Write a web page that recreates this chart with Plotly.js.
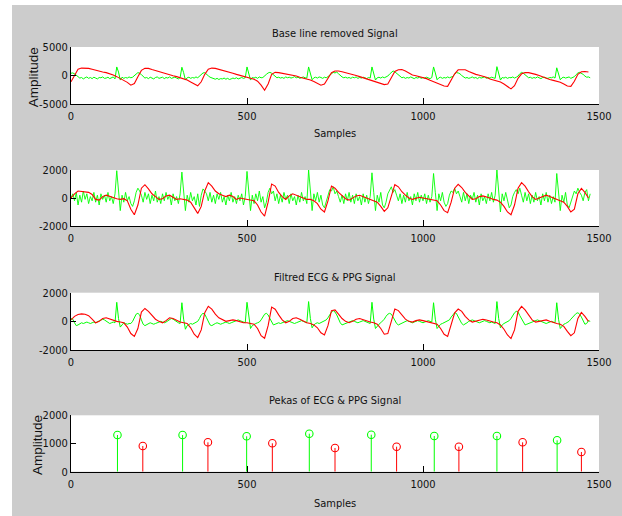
<!DOCTYPE html>
<html>
<head>
<meta charset="utf-8">
<script src="https://cdn.plot.ly/plotly-3.0.1.min.js"></script>
<style>
  html, body { margin: 0; padding: 0; background: #ffffff; width: 622px; height: 516px; overflow: hidden; }
  #chart { position: absolute; left: 12px; top: 5px; width: 610px; height: 511px; }
</style>
</head>
<body>
<div id="chart"></div>
<script>
// ---------------- data ----------------
const GREEN_STEP = 5;   // samples between green values
const RED_STEP = 10;    // samples between red values

const X_TICKS = [0, 500, 1000, 1500];
const X_TICK_TEXT = ['0', '500', '1000', '1500'];
const Y1_TICKS = [-5000, 0, 5000];
const Y1_TICK_TEXT = ['-5000', '0', '5000'];
const Y23_TICKS = [-2000, 0, 2000];
const Y23_TICK_TEXT = ['-2000', '0', '2000'];
const Y4_TICKS = [0, 1000, 2000];
const Y4_TICK_TEXT = ['0', '1000', '2000'];

const TITLES = ['Base line removed Signal', 'Filtred ECG & PPG Signal', 'Pekas of ECG & PPG Signal'];
const X_LABEL = 'Samples';
const Y_LABEL = 'Amplitude';

// Panel 1: base line removed ECG (green) and PPG (red)
const GREEN1 = [
  400, 450, 300, 100, -200, -450, -350, -600, -400, -250, -500, -350, -550, -300, -450, -600, -350, -400, -250, -500,
  -450, -300, -550, -400, -250, -600, 1500, 600, -800, -300, -500, -350, -450, -250, -400, -300, -100, 250, 500, 400,
  150, -200, -450, -350, -550, -300, -450, -600, -350, -250, -500, -400, -300, -550, -350, -450, -250, -500, -400, -300,
  -450, -600, -350, 1450, 500, -800, -400, -300, -500, -350, -450, -250, -400, -150, 200, 450, 500, 300, -50, -300,
  -450, -550, -650, -500, -700, -550, -600, -450, -650, -500, -700, -600, -450, -550, -400, -600, -450, -350, -500, -400,
  1500, 400, -800, -350, -450, -300, -500, -250, -400, -350, -150, 200, 450, 550, 400, 100, -250, -400, -300, -450,
  -350, -500, -250, -400, -300, -450, -350, -200, -400, -300, -500, -350, -250, -400, -450, 1500, 500, -750, -400, -300,
  -450, -250, -350, -500, -300, -400, -200, 100, 400, 550, 450, 600, 300, 0, -250, -400, -300, -450, -350, -500,
  -300, -400, -250, -500, -350, -450, -300, -400, -550, -350, -450, 1500, 400, -800, -400, -300, -450, -250, -400, -300,
  -100, 250, 550, 800, 650, 400, 100, -200, -400, -300, -500, -350, -450, -250, -400, -550, -350, -450, -300, -500,
  -350, -450, -300, -400, -550, -350, 1500, 450, -750, -400, -300, -500, -350, -450, -250, -400, -300, -150, 250, 500,
  450, 300, 0, -300, -450, -350, -500, -400, -250, -450, -350, -550, -300, -450, -400, -250, -500, -350, -450, -300,
  -400, -500, 1550, 500, -800, -350, -450, -300, -500, -350, -400, -250, -450, -300, -100, 300, 550, 400, 150, -200,
  -400, -300, -500, -350, -450, -250, -400, -550, -350, -300, -450, -500, -350, -400, -250, -450, 1350, 400, -750, -400,
  -300, -450, -350, -250, -500, -350, -200, 150, 450, 550, 400, 200, -100, -300, -250, -400
];
const RED1 = [
  -1100, 100, 1100, 1300, 1300, 1250, 1100, 900, 700, 600,
  500, 350, 100, -200, -500, -800, -1200, -1700, -1400, -200,
  900, 1250, 1250, 1050, 850, 650, 450, 250, 100, -50,
  -200, -400, -600, -800, -1150, -1500, -1800, -1100, 200, 1100,
  1300, 1250, 1100, 900, 700, 550, 400, 200, 50, -100,
  -300, -500, -650, -1000, -1700, -2600, -1500, 200, 550, 500,
  400, 300, 100, 0, -100, -300, -450, -650, -800, -1050,
  -1350, -1700, -1500, -500, 500, 800, 800, 650, 500, 400,
  200, 0, -200, -400, -550, -750, -900, -1100, -1350, -1600,
  -1500, -400, 700, 1000, 1050, 800, 400, 100, -50, -200,
  -320, -550, -850, -1100, -1350, -1600, -1850, -1900, -900, 300,
  1000, 1050, 1000, 700, 400, 200, 50, -100, -300, -600,
  -800, -1000, -1150, -1500, -2000, -2350, -1800, -500, 300, 500,
  500, 400, 200, 0, -250, -500, -700, -850, -1000, -1200,
  -1500, -1850, -1900, -1000, 200, 650, 700, 600
];

// Panel 2: raw (noisy) ECG and PPG
const GREEN2 = [
  0, 300, -200, 400, -500, 200, -300, 500, -100, 300, -400, 100, -200, 400, -300, 200, -500, 300, -100, 200,
  -300, 400, -200, 100, -400, 300, 1950, 500, -900, 200, -300, 400, -200, 100, -400, -600, -200, 400, 700, 500,
  200, -300, 400, -100, 300, -400, 200, -200, 500, -300, 100, -400, 300, -200, 400, -100, 200, -500, 300, -200,
  100, -400, 300, 1850, 600, -900, 200, -300, 400, -200, 100, -500, 300, -600, 200, 650, 500, 300, -200, 400,
  -300, 200, -400, 300, -100, 400, -300, 100, -500, 200, -200, 400, -300, 100, -400, 200, -200, 300, -500, 100,
  1900, 400, -900, 200, -400, 300, -200, 500, -300, 100, -700, -300, 400, 700, 300, 500, -200, 300, -400, 200,
  -300, 400, -100, 200, -400, 300, -200, 100, -500, 200, -300, 400, -200, 100, -400, 2000, 500, -900, 300, -200,
  400, -300, 200, -500, -700, -200, 300, 600, 500, 800, 300, 500, 100, -300, 200, -400, 300, -200, 400, -300,
  200, -400, 300, -200, 100, -500, 300, -300, 200, -400, 100, 1800, 400, -900, 200, -300, 400, -500, -700, -300,
  300, 600, 800, 400, 600, 200, -200, 300, -400, 200, -300, 400, -200, 100, -500, 300, -200, 400, -300, 200,
  -200, 300, -400, 200, -300, 100, 1750, 400, -900, 300, -200, 400, -300, -600, -400, 200, 500, 400, 700, 300,
  500, 100, -300, 400, -200, 300, -400, 200, -100, 400, -300, 200, -500, 300, -200, 100, -400, 300, -200, 400,
  -300, 200, 2000, 500, -1000, 300, -200, 400, -300, -700, -500, 100, 400, 600, 300, 700, 200, -300, 400, -200,
  300, -400, 200, -300, 400, -200, 100, -500, 300, -200, 400, -300, 200, -400, 100, -300, 1750, 400, -900, 200,
  -300, 400, -500, -700, -300, 200, 500, 300, 700, 400, 200, -200, 400, 600, -200, 300
];
const RED2 = [
  0, 300, 500, 450, 400, 400, 250, -100, -150, 100,
  200, 100, 0, -50, -100, -50, -200, -800, -1200, -500,
  700, 950, 650, 300, 100, -100, -50, 150, 200, 50,
  -100, -50, -100, -150, -300, -700, -1100, -600, 500, 1100,
  850, 500, 300, 200, 100, 200, 100, -100, 0, -50,
  -100, -150, -200, -500, -1000, -1300, -300, 1000, 850, 400,
  100, -100, 150, 300, 200, 150, 0, -100, -100, -200,
  -400, -800, -1000, -200, 850, 700, 400, 150, -50, -150,
  0, 150, 200, 100, 0, -100, -150, -300, -600, -950,
  -700, 200, 950, 800, 450, 200, 0, -100, 0, 50,
  0, -50, -100, -150, -200, -500, -900, -1050, -300, 700,
  980, 750, 400, 150, -100, -50, 100, 150, 100, 0,
  -100, -150, -300, -600, -1000, -1200, -500, 700, 1100, 850,
  450, 100, -100, 0, 150, 200, 100, 0, -100, -150,
  -300, -600, -1000, -800, 300, 680, 400, 0
];

// Panel 3: filtered ECG and PPG
const GREEN3 = [
  200, 150, -100, -300, -250, -150, -100, -150, -100, -50, -100, -150, -100, -50, -100, -50, 0, 100, 150, 100,
  0, -100, -150, -100, -50, -100, 1330, 200, -400, -250, -100, -150, -200, -150, -150, 0, 250, 500, 560, 450,
  100, -200, -300, -250, -150, -100, -150, -200, -150, -100, -50, 0, -50, -100, -50, 50, 150, 200, 150, 50,
  -50, -100, -150, 1300, 150, -550, -300, -200, -150, -200, -150, -100, 0, 200, 450, 560, 500, 250, -50, -250,
  -300, -200, -150, -100, -150, -200, -150, -100, -50, -100, -150, -100, -50, 0, 50, 100, 50, 0, -50, -100,
  1330, 200, -500, -300, -200, -150, -100, -50, 100, 300, 500, 560, 450, 200, -50, -250, -200, -150, -100, -150,
  -100, -50, 0, 50, 0, -50, -100, -150, -100, -50, 0, 50, 0, -50, -100, 1380, 200, -450, -250, -150,
  -100, -150, -100, -50, 0, 100, 250, 450, 650, 750, 650, 450, 150, -100, -250, -200, -150, -100, -50, 0,
  50, 0, -50, -100, -50, 0, 50, 0, -50, -100, -150, 1330, 150, -500, -300, -200, -100, 0, 150, 350,
  500, 560, 500, 300, 50, -150, -250, -200, -100, -50, 0, 50, 0, -50, -100, -50, 0, 50, 0, -50,
  -100, -50, 0, 50, 0, -50, 1300, 150, -500, -300, -200, -150, -100, -50, 0, 100, 300, 500, 600, 550,
  350, 100, -150, -250, -200, -100, 0, 50, 100, 50, 0, -50, -100, -50, 0, 50, 0, -50, -100, -50,
  -100, -150, 1380, 200, -450, -250, -150, -100, -50, 50, 200, 400, 600, 700, 650, 400, 150, -100, -250, -200,
  -150, -100, -50, 0, 50, 100, 50, 0, -50, -100, -150, -100, -50, 0, -50, -100, 1300, 150, -500, -300,
  -200, -150, -100, 0, 150, 300, 450, 550, 600, 500, 300, 50, -200, -150, 50, 0
];
const RED3 = [
  100, 350, 480, 520, 500, 400, 150, -100, 0, 200,
  250, 150, 50, 0, -50, -100, -400, -850, -1050, -500,
  650, 900, 700, 400, 150, 0, -100, 50, 250, 200,
  50, -50, -100, -150, -450, -900, -1130, -600, 600, 1050,
  850, 500, 250, 100, 0, 50, 100, 50, -50, -100,
  -100, -150, -200, -500, -1000, -1180, -300, 1000, 850, 450,
  100, -100, 0, 200, 250, 150, 0, -100, -150, -250,
  -450, -800, -950, -300, 750, 800, 500, 200, 0, -100,
  0, 150, 200, 100, 0, -50, -100, -200, -500, -900,
  -850, 100, 860, 750, 450, 150, 0, -50, 50, 100,
  50, 0, -50, -100, -200, -500, -900, -1050, -300, 600,
  860, 700, 350, 100, -50, 0, 100, 150, 100, 0,
  -50, -100, -250, -550, -950, -1200, -600, 700, 1050, 800,
  400, 100, -50, 0, 100, 100, 0, -100, -150, -200,
  -350, -700, -1000, -800, 200, 620, 350, 0
];

// Panel 4: detected peaks
const ECG_PEAK_X = [132, 317, 499, 677, 853, 1032, 1210, 1381];
const ECG_PEAK_Y = [1301, 1300, 1255, 1348, 1312, 1266, 1266, 1113];
const PPG_PEAK_X = [204, 389, 572, 750, 925, 1102, 1283, 1450];
const PPG_PEAK_Y = [911, 1042, 1007, 840, 887, 887, 1042, 699];

// ---------------- styling ----------------
const GREEN = '#00ff00';
const RED = '#ff0000';
const NARROW = '"Liberation Sans Narrow", "Arial Narrow", "DejaVu Sans Condensed", "Liberation Sans", Arial, sans-serif';
const NORMAL = '"Liberation Sans", Arial, sans-serif';
const TXT = '#111111';

const idxX = (arr, step) => arr.map((_, i) => i * step);

function lineTrace(vals, step, color, width, k) {
  return {
    type: 'scatter', mode: 'lines',
    x: idxX(vals, step), y: vals,
    line: { color: color, width: width },
    xaxis: k === 1 ? 'x' : 'x' + k, yaxis: k === 1 ? 'y' : 'y' + k,
    hoverinfo: 'skip', showlegend: false
  };
}
function stemTraces(xs, ys, color, k) {
  const sx = [], sy = [];
  xs.forEach((x, i) => { sx.push(x, x, null); sy.push(0, ys[i], null); });
  const ax = k === 1 ? 'x' : 'x' + k, ay = k === 1 ? 'y' : 'y' + k;
  return [
    { type: 'scatter', mode: 'lines', x: sx, y: sy, line: { color: color, width: 1 },
      xaxis: ax, yaxis: ay, hoverinfo: 'skip', showlegend: false },
    { type: 'scatter', mode: 'markers', x: xs, y: ys,
      marker: { symbol: 'circle-open', size: 7.5, color: color, line: { color: color, width: 1.1 } },
      xaxis: ax, yaxis: ay, hoverinfo: 'skip', showlegend: false }
  ];
}

const data = [
  lineTrace(GREEN1, GREEN_STEP, GREEN, 1, 1),
  lineTrace(RED1, RED_STEP, RED, 1.1, 1),
  lineTrace(GREEN2, GREEN_STEP, GREEN, 0.9, 2),
  lineTrace(RED2, RED_STEP, RED, 1.1, 2),
  lineTrace(GREEN3, GREEN_STEP, GREEN, 1, 3),
  lineTrace(RED3, RED_STEP, RED, 1.1, 3),
  ...stemTraces(ECG_PEAK_X, ECG_PEAK_Y, GREEN, 4),
  ...stemTraces(PPG_PEAK_X, PPG_PEAK_Y, RED, 4)
];

const H = 511;
const dom = (top, bottom) => [1 - bottom / H, 1 - top / H];

function xAxis(anchor) {
  return {
    domain: [0, 1], anchor: anchor, range: [0, 1500],
    tickmode: 'array', tickvals: X_TICKS, ticktext: X_TICK_TEXT,
    ticks: 'inside', ticklen: 6, tickwidth: 1, tickcolor: '#000',
    showline: true, linecolor: '#000', linewidth: 1, mirror: false,
    showgrid: false, zeroline: false, ticklabelstandoff: 2,
    tickfont: { family: NARROW, size: 11, color: TXT }, fixedrange: true
  };
}
function yAxis(anchor, domain, range, vals, text) {
  return {
    domain: domain, anchor: anchor, range: range,
    tickmode: 'array', tickvals: vals, ticktext: text,
    ticks: 'inside', ticklen: 5, tickwidth: 1, tickcolor: '#000',
    showline: true, linecolor: '#000', linewidth: 1, mirror: false,
    showgrid: false, zeroline: false,
    tickfont: { family: NARROW, size: 11, color: TXT }, fixedrange: true
  };
}

function ann(text, x, y, opts) {
  return Object.assign({
    text: text, xref: 'paper', yref: 'paper', x: x, y: y,
    xanchor: 'center', yanchor: 'middle', showarrow: false,
    font: { family: NARROW, size: 11, color: TXT }
  }, opts || {});
}

const layout = {
  width: 610, height: H,
  margin: { l: 59, r: 23, t: 0, b: 0, pad: 0 },
  paper_bgcolor: '#cccccc', plot_bgcolor: '#ffffff',
  showlegend: false,
  xaxis: xAxis('y'),
  yaxis: yAxis('x', dom(42, 99), [-5000, 5000], Y1_TICKS, Y1_TICK_TEXT),
  xaxis2: xAxis('y2'),
  yaxis2: yAxis('x2', dom(165, 221), [-2000, 2000], Y23_TICKS, Y23_TICK_TEXT),
  xaxis3: xAxis('y3'),
  yaxis3: yAxis('x3', dom(287.7, 345), [-2000, 2000], Y23_TICKS, Y23_TICK_TEXT),
  xaxis4: xAxis('y4'),
  yaxis4: yAxis('x4', dom(410.3, 466.7), [0, 2000], Y4_TICKS, Y4_TICK_TEXT),
  annotations: [
    ann(TITLES[0], 0.5, 1 - 28 / H),
    ann(TITLES[1], 0.5, 1 - 272.3 / H),
    ann(TITLES[2], 0.5, 1 - 395 / H),
    ann(X_LABEL, 0.5, 1 - 128 / H),
    ann(X_LABEL, 0.5, 1 - 498 / H),
    ann(Y_LABEL, (21.7 - 59) / 528, 1 - 72.5 / H, { textangle: -90, font: { family: NORMAL, size: 13.5, color: TXT } }),
    ann(Y_LABEL, (25 - 59) / 528, 1 - 440 / H, { textangle: -90, font: { family: NORMAL, size: 13.5, color: TXT } })
  ]
};

Plotly.newPlot('chart', data, layout, { staticPlot: true, displayModeBar: false });
</script>
</body>
</html>
